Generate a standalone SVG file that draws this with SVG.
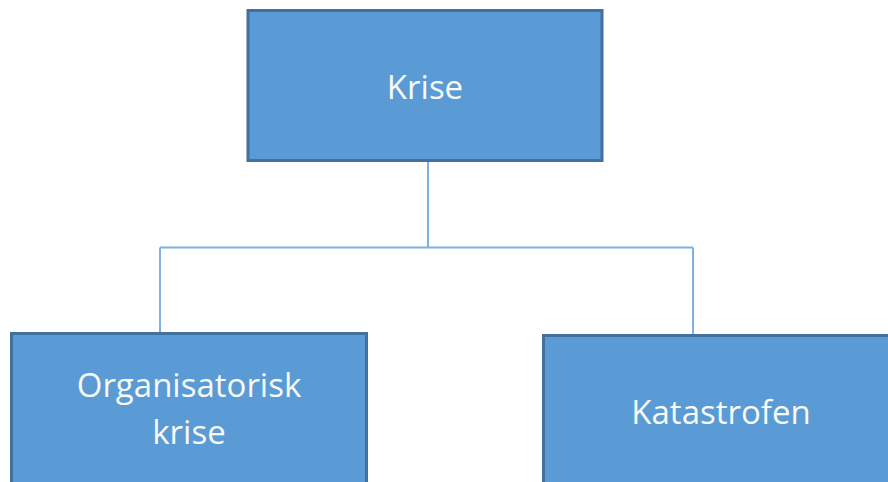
<svg xmlns="http://www.w3.org/2000/svg" width="888" height="482" viewBox="0 0 888 482">
<style>
.box{fill:#5B9BD5;stroke:#41719C;stroke-width:3}
.lbl{font-family:"Open Sans","Noto Sans",sans-serif;font-size:33px;fill:#F7F9F5;text-anchor:middle}
.con{fill:none;stroke:#7EB0E2;stroke-width:2}
</style>
<rect width="888" height="482" fill="#FFFFFF"/>
<g id="connectors">
<path class="con" d="M428 161 V247.5 M160 247.5 H693 M160 247.5 V332 M693 247.5 V334"/>
</g>
<g id="krise">
<rect class="box" x="248" y="10.5" width="354" height="150"/>
<text class="lbl" x="425" y="99">Krise</text>
</g>
<g id="organisatorisk">
<rect class="box" x="11.5" y="333.5" width="355" height="160"/>
<text class="lbl" x="189" y="397">Organisatorisk</text>
<text class="lbl" x="189" y="444">krise</text>
</g>
<g id="katastrofen">
<rect class="box" x="543.5" y="335.5" width="360" height="160"/>
<text class="lbl" x="721" y="424">Katastrofen</text>
</g>
</svg>
